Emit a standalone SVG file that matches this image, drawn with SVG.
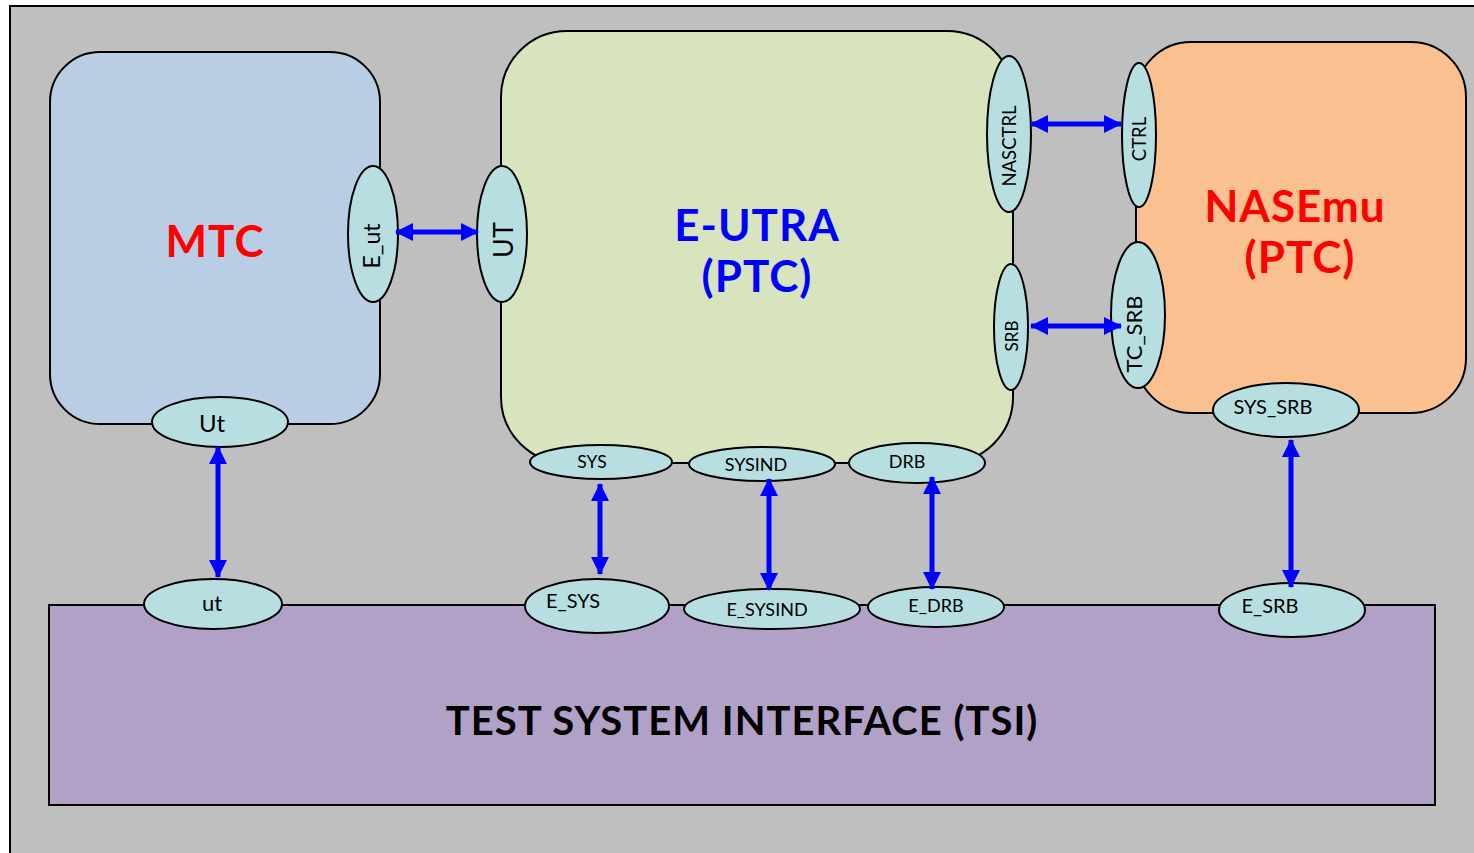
<svg xmlns="http://www.w3.org/2000/svg" width="1474" height="853" viewBox="0 0 1474 853">
<defs>
<marker id="ah" viewBox="0 0 18 18" refX="17" refY="9" markerWidth="18" markerHeight="18" markerUnits="userSpaceOnUse" orient="auto-start-reverse">
<path d="M0,0 L18,9 L0,18 Z" fill="#0000ff"/>
</marker>
</defs>
<style>
.box{stroke:#000;stroke-width:2}
.port{fill:#b7dfe2;stroke:#000;stroke-width:2}
.pl{font-family:Lato,"Open Sans","Liberation Sans",sans-serif;fill:#000;text-anchor:middle;dominant-baseline:central}
.big{font-family:Lato,"Open Sans","Liberation Sans",sans-serif;font-weight:bold;text-anchor:middle;dominant-baseline:central;font-size:44px;letter-spacing:1px}
.conn{stroke:#0000ff;stroke-width:5;fill:none;marker-start:url(#ah);marker-end:url(#ah)}
</style>
<rect x="10" y="6" width="1480" height="870" fill="#bfbfbf" stroke="#000" stroke-width="2"/>

<g id="tsi">
<rect class="box" x="49" y="605" width="1386" height="200" fill="#b2a1c7"/>
<text class="big" x="742" y="720" style="font-size:40px" fill="#000">TEST SYSTEM INTERFACE (TSI)</text>
</g>

<g id="mtc">
<rect class="box" x="50" y="52" width="330" height="372" rx="50" fill="#b9cde4"/>
<text class="big" x="215" y="240" fill="#ff0000">MTC</text>
</g>

<g id="eutra">
<rect class="box" x="501" y="31" width="512" height="432" rx="66" fill="#d7e4bd"/>
<text class="big" x="757" y="224" fill="#0000ff">E-UTRA</text>
<text class="big" x="757" y="275" fill="#0000ff">(PTC)</text>
</g>

<g id="nasemu">
<rect class="box" x="1136" y="42" width="330" height="371" rx="55" fill="#fac090"/>
<text class="big" x="1295" y="205" fill="#ff0000">NASEmu</text>
<text class="big" x="1300" y="256" fill="#ff0000">(PTC)</text>
</g>

<g id="port-E_ut"><ellipse class="port" cx="373" cy="234" rx="25" ry="68"/><text class="pl" font-size="23" transform="translate(371,246) rotate(-90)">E_ut</text></g>
<g id="port-UT"><ellipse class="port" cx="502" cy="234" rx="25" ry="68"/><text class="pl" font-size="27" transform="translate(502,240) rotate(-90)">UT</text></g>
<g id="port-NASCTRL"><ellipse class="port" cx="1009" cy="134" rx="22" ry="78"/><text class="pl" font-size="18.5" transform="translate(1009,146) rotate(-90)">NASCTRL</text></g>
<g id="port-CTRL"><ellipse class="port" cx="1139" cy="135" rx="17" ry="72"/><text class="pl" font-size="18.5" transform="translate(1139,139) rotate(-90)">CTRL</text></g>
<g id="port-SRB"><ellipse class="port" cx="1011" cy="327" rx="17" ry="63"/><text class="pl" font-size="17" transform="translate(1011,336) rotate(-90)">SRB</text></g>
<g id="port-TC_SRB"><ellipse class="port" cx="1138" cy="315" rx="27" ry="73"/><text class="pl" font-size="22" transform="translate(1133,334) rotate(-90)">TC_SRB</text></g>
<g id="port-SYS_SRB"><ellipse class="port" cx="1286" cy="410" rx="73" ry="27"/><text class="pl" font-size="20" x="1273" y="406">SYS_SRB</text></g>
<g id="port-Ut"><ellipse class="port" cx="220" cy="422" rx="68" ry="25"/><text class="pl" font-size="24" x="212" y="422">Ut</text></g>
<g id="port-SYS"><ellipse class="port" cx="601" cy="462" rx="71" ry="17"/><text class="pl" font-size="17.5" x="592" y="461">SYS</text></g>
<g id="port-SYSIND"><ellipse class="port" cx="762" cy="464" rx="73" ry="17"/><text class="pl" font-size="18" x="756" y="464">SYSIND</text></g>
<g id="port-DRB"><ellipse class="port" cx="917" cy="463" rx="68" ry="20"/><text class="pl" font-size="18" x="907" y="461">DRB</text></g>
<g id="port-ut"><ellipse class="port" cx="213" cy="604" rx="69" ry="25"/><text class="pl" font-size="22" x="212" y="602">ut</text></g>
<g id="port-E_SYS"><ellipse class="port" cx="597" cy="606" rx="72" ry="27"/><text class="pl" font-size="20" x="573" y="600">E_SYS</text></g>
<g id="port-E_SYSIND"><ellipse class="port" cx="772" cy="609" rx="88" ry="20"/><text class="pl" font-size="18" x="767" y="609">E_SYSIND</text></g>
<g id="port-E_DRB"><ellipse class="port" cx="936" cy="607" rx="68" ry="20"/><text class="pl" font-size="18" x="936" y="605">E_DRB</text></g>
<g id="port-E_SRB"><ellipse class="port" cx="1292" cy="610" rx="73" ry="27"/><text class="pl" font-size="20" x="1270" y="605">E_SRB</text></g>

<g id="connectors">
<line class="conn" x1="396" y1="232" x2="478" y2="232"/>
<line class="conn" x1="1031" y1="124" x2="1121" y2="124"/>
<line class="conn" x1="1031" y1="326" x2="1121" y2="326"/>
<line class="conn" x1="218" y1="447" x2="218" y2="577"/>
<line class="conn" x1="600" y1="484" x2="600" y2="574"/>
<line class="conn" x1="769" y1="479" x2="769" y2="590"/>
<line class="conn" x1="932" y1="477" x2="932" y2="589"/>
<line class="conn" x1="1291" y1="440" x2="1291" y2="587"/>
</g>
</svg>
